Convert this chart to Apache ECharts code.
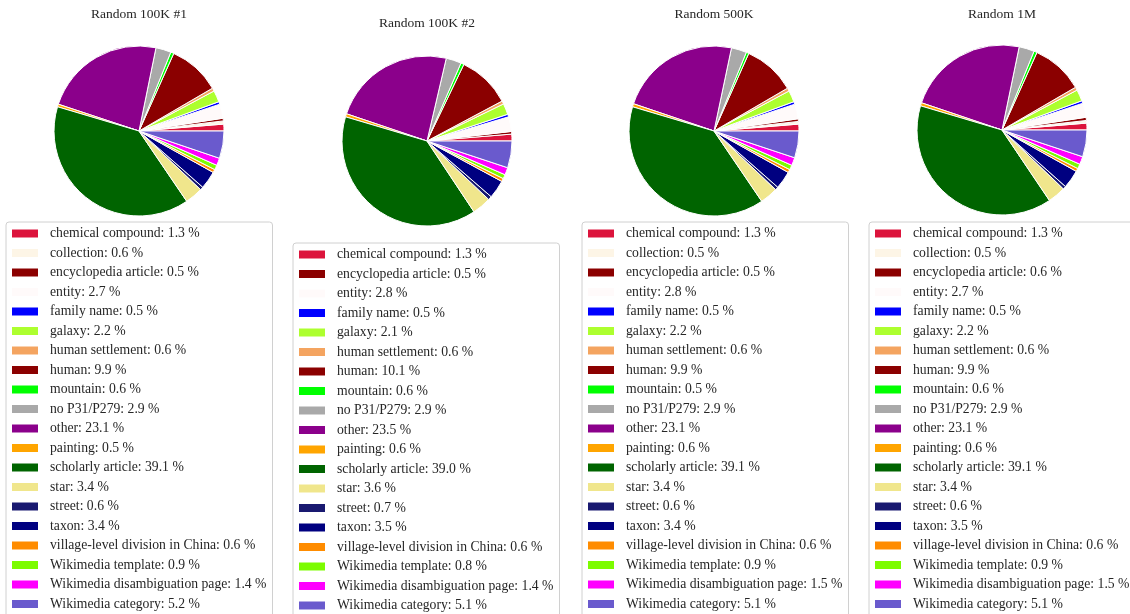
<!DOCTYPE html>
<html>
<head>
<meta charset="utf-8">
<script src="https://cdn.jsdelivr.net/npm/echarts@6/dist/echarts.min.js"></script>
<style>
  html, body { margin: 0; padding: 0; background: #fff; }
  #main { width: 1130px; height: 614px; }
</style>
</head>
<body>
<div id="main"></div>
<script>
const titles = ["Random 100K #1", "Random 100K #2", "Random 500K", "Random 1M"];

const categories = [
  "chemical compound", "collection", "encyclopedia article", "entity", "family name",
  "galaxy", "human settlement", "human", "mountain", "no P31/P279", "other",
  "painting", "scholarly article", "star", "street", "taxon",
  "village-level division in China", "Wikimedia template",
  "Wikimedia disambiguation page", "Wikimedia category"
];

const colors = [
  "#DC143C", "#FDF5E6", "#8B0000", "#FFFAFA", "#0000FF",
  "#ADFF2F", "#F4A460", "#8B0000", "#00FF00", "#A9A9A9", "#8B008B",
  "#FFA500", "#006400", "#F0E68C", "#191970", "#000080",
  "#FF8C00", "#7CFC00", "#FF00FF", "#6A5ACD"
];

// null = category not present in that sample
const random100k1 = [1.3, 0.6, 0.5, 2.7, 0.5, 2.2, 0.6, 9.9, 0.6, 2.9, 23.1, 0.5, 39.1, 3.4, 0.6, 3.4, 0.6, 0.9, 1.4, 5.2];
const random100k2 = [1.3, null, 0.5, 2.8, 0.5, 2.1, 0.6, 10.1, 0.6, 2.9, 23.5, 0.6, 39.0, 3.6, 0.7, 3.5, 0.6, 0.8, 1.4, 5.1];
const random500k  = [1.3, 0.5, 0.5, 2.8, 0.5, 2.2, 0.6, 9.9, 0.5, 2.9, 23.1, 0.6, 39.1, 3.4, 0.6, 3.4, 0.6, 0.9, 1.5, 5.1];
const random1m    = [1.3, 0.5, 0.6, 2.7, 0.5, 2.2, 0.6, 9.9, 0.6, 2.9, 23.1, 0.6, 39.1, 3.4, 0.6, 3.5, 0.6, 0.9, 1.5, 5.1];

const samples = [random100k1, random100k2, random500k, random1m];

const font = "'Liberation Serif', 'Times New Roman', serif";
const textColor = "#262626";

const centersX = [139, 427, 714, 1002];
const centersY = [131, 141, 131, 130];
const titleTops = [7, 16, 7, 7];
const legendLefts = [6, 293, 582, 869];
const legendTops = [222, 243, 222, 222];

const chart = echarts.init(document.getElementById("main"));

const title = [], legend = [], series = [];

samples.forEach(function (values, i) {
  const data = [];
  const lookup = {};
  values.forEach(function (v, j) {
    if (v == null) return;
    data.push({ name: categories[j], value: v, itemStyle: { color: colors[j] } });
    lookup[categories[j]] = v;
  });

  title.push({
    text: titles[i],
    left: centersX[i],
    top: titleTops[i],
    textAlign: "center",
    padding: 0,
    textStyle: { fontFamily: font, fontSize: 13.5, fontWeight: "normal", color: textColor }
  });

  legend.push({
    orient: "vertical",
    left: legendLefts[i],
    top: legendTops[i],
    height: 440,
    padding: [4.5, 6, 6, 6],
    itemWidth: 26,
    itemHeight: 8,
    itemGap: 5.5,
    icon: "rect",
    backgroundColor: "#fff",
    borderColor: "#d0d0d0",
    borderWidth: 1,
    borderRadius: 3,
    itemStyle: { borderWidth: 0 },
    data: data.map(function (d) { return d.name; }),
    formatter: function (name) { return name + ": " + lookup[name].toFixed(1) + " %"; },
    textStyle: { fontFamily: font, fontSize: 13.7, lineHeight: 14, color: textColor, padding: [0, 0, 0, 7] }
  });

  series.push({
    type: "pie",
    center: [centersX[i], centersY[i]],
    radius: 85,
    startAngle: 0,
    clockwise: false,
    label: { show: false },
    labelLine: { show: false },
    emphasis: { disabled: true },
    itemStyle: { borderColor: "#fff", borderWidth: 1 },
    data: data
  });
});

chart.setOption({
  animation: false,
  backgroundColor: "#fff",
  title: title,
  legend: legend,
  series: series
});
</script>
</body>
</html>
